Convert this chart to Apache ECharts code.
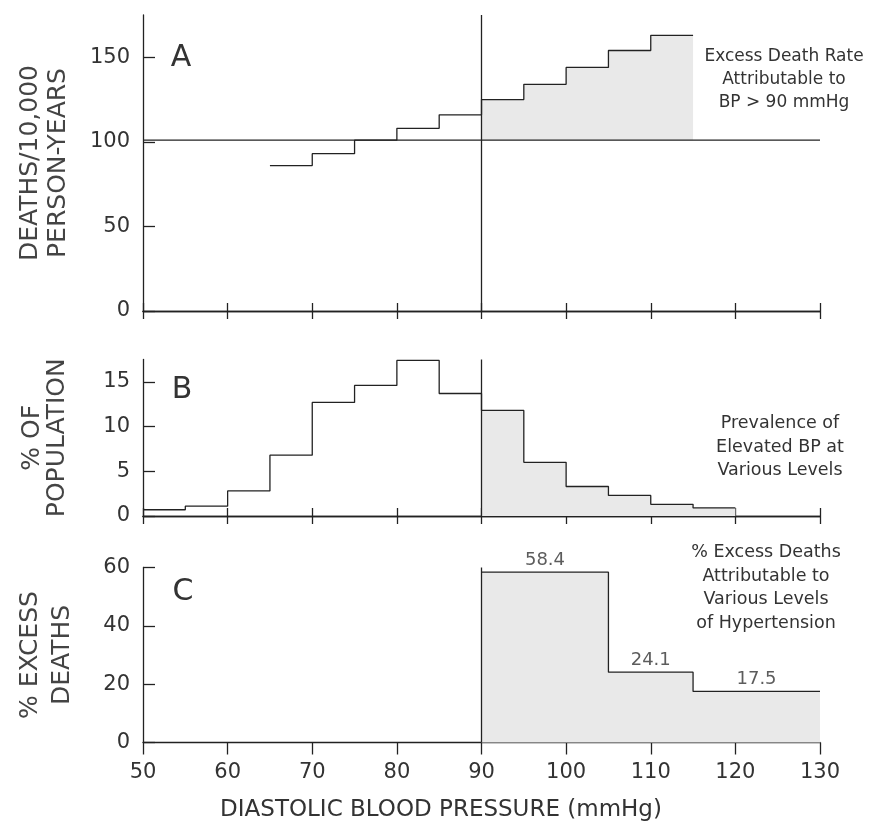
<!DOCTYPE html>
<html>
<head>
<meta charset="utf-8">
<script src="https://cdn.jsdelivr.net/npm/echarts@6/dist/echarts.min.js"></script>
<style>html,body{margin:0;padding:0;background:#fff}#main{width:873px;height:830px}</style>
</head>
<body>
<div id="main"></div>
<script>
var myChart = echarts.init(document.getElementById('main'));

// bin edges (mmHg) and values
var edgesA = [65, 70, 75, 80, 85, 90, 95, 100, 105, 110, 115];
var deathRate = [86, 93, 101, 108, 116, 125, 134, 144, 154, 163];
var refRate = 101;
var edgesB = [50, 55, 60, 65, 70, 75, 80, 85, 90, 95, 100, 105, 110, 115, 120];
var population = [0.7, 1.1, 2.8, 6.8, 12.7, 14.6, 17.4, 13.7, 11.8, 6.0, 3.3, 2.3, 1.3, 0.9];
var edgesC = [90, 105, 115, 130];
var excessDeaths = [58.4, 24.1, 17.5];
var cutoff = 90;
var ticksA = [0, 50, 100, 150];
var ticksB = [0, 5, 10, 15];
var ticksC = [0, 20, 40, 60];

var ink = '#222';
var shade = '#e9e9e9';
var font = 'DejaVu Sans';

// histogram bins -> points for a step line
function steps(edges, vals, from) {
    var pts = [];
    for (var i = 0; i < vals.length; i++) {
        if (from === undefined || edges[i] >= from) pts.push([edges[i], vals[i]]);
    }
    pts.push([edges[vals.length], vals[vals.length - 1]]);
    return pts;
}

function xAx(grid, inside, labels) {
    return {
        type: 'value', gridIndex: grid, min: 50, max: 130, interval: 10,
        position: 'bottom',
        axisLine: { lineStyle: { color: ink, width: 1.3 } },
        axisTick: { inside: inside, length: labels ? 12 : 8, lineStyle: { color: ink, width: 1.3 } },
        axisLabel: { show: !!labels, margin: 20, fontFamily: font, fontSize: 21, color: '#333' },
        splitLine: { show: false }
    };
}

function yAx(grid, max, ticks, name, gap, lh) {
    return {
        type: 'value', gridIndex: grid, min: 0, max: max,
        axisLine: { show: true, lineStyle: { color: ink, width: 1.3 } },
        axisTick: { inside: true, length: 12, customValues: ticks, lineStyle: { color: ink, width: 1.3 } },
        axisLabel: { customValues: ticks, margin: 13, fontFamily: font, fontSize: 21, color: '#333' },
        splitLine: { show: false },
        name: name, nameLocation: 'middle', nameRotate: 90, nameGap: gap,
        nameTextStyle: { fontFamily: font, fontSize: 25, color: '#444', lineHeight: lh }
    };
}

function cutLine() {
    return {
        silent: true, symbol: 'none', label: { show: false },
        lineStyle: { color: ink, width: 1.3, type: 'solid' },
        data: [{ xAxis: cutoff }]
    };
}

var midC = [];
for (var i = 0; i < excessDeaths.length; i++) {
    midC.push([(edgesC[i] + edgesC[i + 1]) / 2, excessDeaths[i]]);
}

function note(x, y, text, size, lh) {
    return {
        type: 'text', x: x, y: y,
        style: {
            text: text, fontFamily: font, fontSize: size, lineHeight: lh,
            fill: '#333', align: 'center', verticalAlign: 'middle'
        }
    };
}

var option = {
    backgroundColor: '#fff',
    animation: false,
    grid: [
        { left: 143, width: 677, top: 15, height: 296 },
        { left: 143, width: 677, top: 359.5, height: 156.5 },
        { left: 143, width: 677, top: 567.5, height: 175 }
    ],
    xAxis: [xAx(0, true), xAx(0, false), xAx(1, true), xAx(1, false), xAx(2, false, true)],
    yAxis: [
        yAx(0, 175, ticksA, 'DEATHS/10,000\nPERSON-YEARS', 71, 28),
        yAx(1, 17.5, ticksB, '% OF\nPOPULATION', 73, 25),
        yAx(2, 60, ticksC, '% EXCESS\nDEATHS', 65, 32)
    ],
    graphic: [
        note(181, 58, 'A', 30, 30),
        note(182, 390, 'B', 30, 30),
        note(183, 592, 'C', 30, 30),
        note(784, 80, 'Excess Death Rate\nAttributable to\nBP > 90 mmHg', 17, 23),
        note(780, 447, 'Prevalence of\nElevated BP at\nVarious Levels', 17.5, 23.5),
        note(766, 588, '% Excess Deaths\nAttributable to\nVarious Levels\nof Hypertension', 17.5, 23.7),
        note(441, 810, 'DIASTOLIC BLOOD PRESSURE (mmHg)', 23, 26)
    ],
    series: [
        {
            name: 'excess A', type: 'line', xAxisIndex: 0, yAxisIndex: 0, step: 'end',
            data: steps(edgesA, deathRate, cutoff), symbol: 'none',
            lineStyle: { width: 0 }, areaStyle: { color: shade, opacity: 1, origin: refRate }
        },
        {
            name: 'reference', type: 'line', xAxisIndex: 0, yAxisIndex: 0,
            data: [[50, refRate], [130, refRate]], symbol: 'none',
            lineStyle: { color: ink, width: 1.2 }, markLine: cutLine()
        },
        {
            name: 'death rate', type: 'line', xAxisIndex: 0, yAxisIndex: 0, step: 'end',
            data: steps(edgesA, deathRate), symbol: 'none',
            lineStyle: { color: ink, width: 1.3 }
        },
        {
            name: 'excess B', type: 'line', xAxisIndex: 2, yAxisIndex: 1, step: 'end',
            data: steps(edgesB, population, cutoff), symbol: 'none',
            lineStyle: { width: 0 }, areaStyle: { color: shade, opacity: 1, origin: 0 }
        },
        {
            name: 'population', type: 'line', xAxisIndex: 2, yAxisIndex: 1, step: 'end',
            data: steps(edgesB, population), symbol: 'none',
            lineStyle: { color: ink, width: 1.3 }, markLine: cutLine()
        },
        {
            name: 'excess deaths', type: 'line', xAxisIndex: 4, yAxisIndex: 2, step: 'end',
            data: steps(edgesC, excessDeaths), symbol: 'none',
            lineStyle: { color: ink, width: 1.3 },
            areaStyle: { color: shade, opacity: 1, origin: 0 }, markLine: cutLine()
        },
        {
            name: 'labels C', type: 'scatter', xAxisIndex: 4, yAxisIndex: 2,
            data: midC, symbolSize: 0,
            label: {
                show: true, position: 'top', distance: 3, fontFamily: font, fontSize: 18, color: '#333',
                formatter: function (p) { return p.value[1].toFixed(1); }
            }
        }
    ]
};

myChart.setOption(option);
</script>
</body>
</html>
